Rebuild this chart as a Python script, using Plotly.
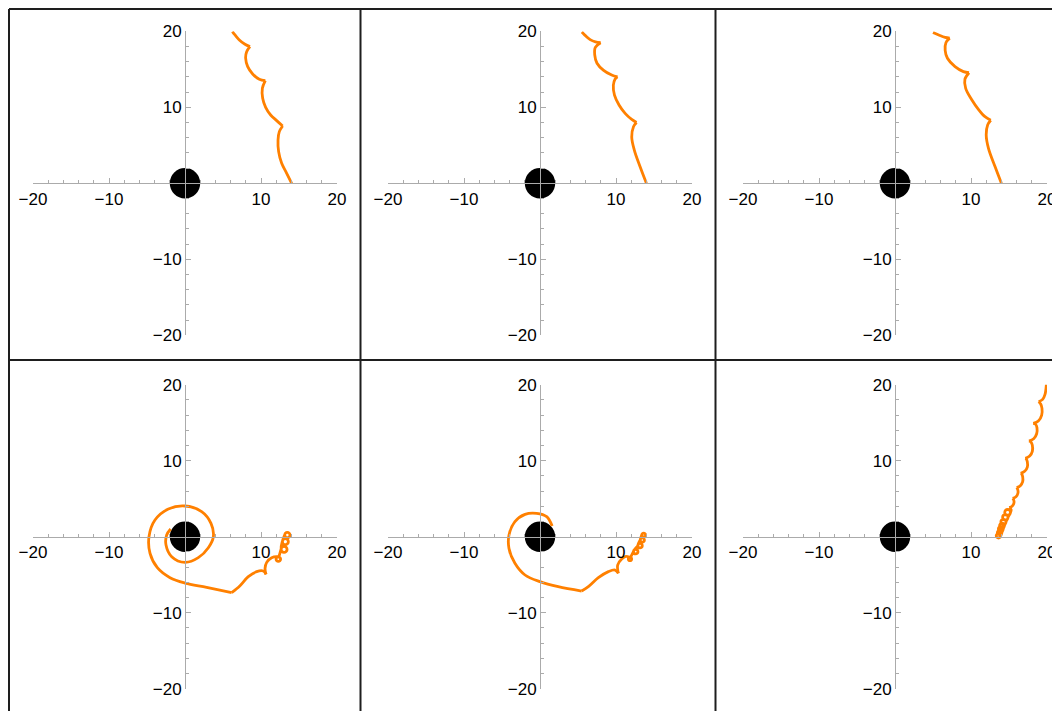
import plotly.graph_objects as go

# ---------------- data ----------------
TICK_VALS = [-20, -10, 10, 20]
MINOR_VALS = [-18, -16, -14, -12, -8, -6, -4, -2, 2, 4, 6, 8, 12, 14, 16, 18]
AXIS_RANGE = [-20, 20]
DISK_RADIUS = 2.0

P1_X = [14.04, 13.38, 12.72, 12.32, 12.24, 12.41, 12.85, None,
        12.85, 12.06, 11.27, 10.61, 10.22, 10.18, 10.57, None,
        10.57, 9.78, 8.9, 8.25, 7.98, 8.11, 8.55, None,
        8.55, 7.89, 7.15, 6.58, 6.23]
P1_Y = [0, 1.32, 2.63, 4.17, 5.7, 6.8, 7.54, None,
        7.54, 8.25, 8.99, 10.0, 11.18, 12.5, 13.5, None,
        13.5, 13.68, 14.39, 15.35, 16.45, 17.32, 17.98, None,
        17.98, 18.29, 18.86, 19.52, 19.96]

P2_X = [14.0, 13.16, 12.4, 12.07, 12.3, 12.7, None,
        12.7, 12.07, 11.2, 10.4, 9.8, 9.65, 9.87, 10.2, None,
        10.2, 9.43, 8.33, 7.5, 7.2, 7.28, 7.98, None,
        7.98, 7.3, 6.6, 5.9, 5.5]
P2_Y = [0, 2.2, 4.4, 6.1, 7.45, 8.0, None,
        8.0, 8.4, 9.2, 10.3, 11.6, 12.9, 13.7, 14.0, None,
        14.0, 14.25, 14.9, 15.8, 16.9, 17.9, 18.5, None,
        18.5, 18.6, 18.9, 19.5, 19.9]

P3_X = [14.0, 13.16, 12.3, 12.0, 12.2, 12.6, None,
        12.6, 11.8, 11.0, 10.1, 9.3, 9.2, 9.74, None,
        9.74, 9.0, 7.9, 6.9, 6.6, 6.7, 7.2, None,
        7.2, 6.6, 5.9, 5.0]
P3_Y = [0, 2.2, 4.6, 6.4, 7.7, 8.3, None,
        8.3, 8.8, 9.7, 11.0, 12.5, 13.7, 14.55, None,
        14.55, 14.7, 15.35, 16.45, 17.5, 18.5, 19.1, None,
        19.1, 19.2, 19.45, 19.85]

P4_X = [-1.89, -2.41, -2.5, -1.75, 0, 1.75, 3.07, 3.73, 3.42, 2.19, 0, -2.19, -3.95, -4.74,
        -4.6, -3.64, -1.97, 0, 2.85, 6.14, None,
        6.14, 7.24, 8.33, 9.43, 10.3, 10.66, None,
        10.66, 10.53, 10.75, 11.4,
        12.28, 12.49, 12.58, 12.49, 12.28, 12.07, 11.98, 12.07, 12.32,
        12.63, 12.75, 13.03, 13.31, 13.43, 13.31, 13.03, 12.75, 12.65,
        12.8, 12.92, 13.2, 13.48, 13.6, 13.48, 13.2, 12.92, 12.82,
        13.11, 13.21, 13.46, 13.71, 13.81, 13.71, 13.46, 13.21, 13.13]
P4_Y = [1.01, 0.22, -1.1, -2.63, -3.38, -2.76, -1.45, 0, 1.75, 3.29, 4.04, 3.64, 2.19, 0,
        -2.19, -4.08, -5.39, -6.1, -6.67, -7.37, None,
        -7.37, -6.45, -5.26, -4.6, -4.52, -4.96, None,
        -4.96, -4.17, -3.38, -2.76,
        -2.64, -2.73, -2.94, -3.15, -3.24, -3.15, -2.94, -2.73, -2.62,
        -1.67, -1.39, -1.27, -1.39, -1.67, -1.95, -2.07, -1.95, -1.6,
        -0.66, -0.38, -0.26, -0.38, -0.66, -0.94, -1.06, -0.94, -0.6,
        0.22, 0.47, 0.57, 0.47, 0.22, -0.03, -0.13, -0.03, 0.27]

P5_X = [1.6, 0.88, -0.44, -1.97, -3.3, -4.08, -4.08, -3.3, -1.97, 0, 2.4, 5.48, None,
        5.48, 6.36, 7.68, 9.0, 9.87, 10.31, None,
        10.31, 10.22, 10.75, 11.3,
        11.84, 12.0, 12.06, 12.0, 11.84, 11.68, 11.62, 11.68, 11.88,
        12.29, 12.38, 12.59, 12.8, 12.89, 12.8, 12.59, 12.38, 12.31,
        12.86, 12.95, 13.16, 13.37, 13.46, 13.37, 13.16, 12.95, 12.88,
        13.18, 13.26, 13.46, 13.66, 13.74, 13.66, 13.46, 13.26, 13.2,
        13.38, 13.46, 13.64, 13.82, 13.9, 13.82, 13.64, 13.46, 13.4]
P5_Y = [1.4, 2.63, 3.07, 2.94, 1.97, 0.22, -1.54, -3.5, -5.04, -5.92, -6.58, -7.15, None,
        -7.15, -6.58, -5.4, -4.6, -4.39, -4.82, None,
        -4.82, -3.73, -2.94, -2.6,
        -2.72, -2.78, -2.94, -3.1, -3.16, -3.1, -2.94, -2.78, -2.7,
        -1.97, -1.76, -1.67, -1.76, -1.97, -2.18, -2.27, -2.18, -1.9,
        -1.18, -0.97, -0.88, -0.97, -1.18, -1.39, -1.48, -1.39, -1.11,
        -0.44, -0.24, -0.16, -0.24, -0.44, -0.64, -0.72, -0.64, -0.37,
        0.22, 0.4, 0.48, 0.4, 0.22, 0.04, -0.04, 0.04, 0.28]

P6_X = [13.6,
        13.92, 13.83, 13.62, 13.41, 13.32, 13.41, 13.62, 13.83, 13.93,
        14.07, 13.98, 13.77, 13.56, 13.47, 13.56, 13.77, 13.98, 14.08,
        14.24, 14.15, 13.92, 13.69, 13.6, 13.69, 13.92, 14.15, 14.25,
        14.4, 14.31, 14.08, 13.85, 13.76, 13.85, 14.08, 14.31, 14.41,
        14.61, 14.51, 14.27, 14.03, 13.93, 14.03, 14.27, 14.51, 14.62,
        14.88, 14.78, 14.52, 14.26, 14.16, 14.26, 14.52, 14.78, 14.89,
        15.2, 15.09, 14.82, 14.55, 14.44, 14.55, 14.82, 15.09, 15.21,
        15.28, 15.04, None,
        15.04, 15.44, 15.66, 15.61, 15.48, None,
        15.48, 15.92, 16.18, 16.14, 16.01, None,
        16.01, 16.49, 16.8, 16.8, 16.67, 16.54, None,
        16.54, 17.06, 17.41, 17.41, 17.28, 17.15, None,
        17.15, 17.72, 18.07, 18.07, 17.89, 17.63, None,
        17.63, 18.25, 18.64, 18.68, 18.51, 18.2, None,
        18.2, 18.86, 19.3, 19.34, 19.17, 18.9, None,
        18.9, 19.43, 19.74, 19.87, 19.96, 20.1]
P6_Y = [-0.2,
        0.12, 0.33, 0.42, 0.33, 0.12, -0.09, -0.18, -0.09, 0.17,
        0.55, 0.76, 0.85, 0.76, 0.55, 0.34, 0.25, 0.34, 0.6,
        1.0, 1.23, 1.32, 1.23, 1.0, 0.77, 0.68, 0.77, 1.05,
        1.45, 1.68, 1.77, 1.68, 1.45, 1.22, 1.13, 1.22, 1.5,
        1.95, 2.19, 2.29, 2.19, 1.95, 1.71, 1.61, 1.71, 2.0,
        2.55, 2.81, 2.91, 2.81, 2.55, 2.29, 2.19, 2.29, 2.6,
        3.2, 3.47, 3.58, 3.47, 3.2, 2.93, 2.82, 2.93, 3.25,
        3.55, 3.82, None,
        3.82, 4.04, 4.47, 4.87, 5.04, None,
        5.04, 5.26, 5.75, 6.23, 6.45, None,
        6.45, 6.71, 7.24, 7.89, 8.25, 8.33, None,
        8.33, 8.6, 9.17, 9.87, 10.22, 10.31, None,
        10.31, 10.61, 11.23, 12.02, 12.46, 12.59, None,
        12.59, 12.89, 13.55, 14.34, 14.78, 14.91, None,
        14.91, 15.22, 16.01, 16.89, 17.46, 17.76, None,
        17.76, 18.07, 18.73, 19.52, 20.39, 21.0]

PANELS = [(P1_X, P1_Y), (P2_X, P2_Y), (P3_X, P3_Y),
          (P4_X, P4_Y), (P5_X, P5_Y), (P6_X, P6_Y)]

# ---------------- layout / style ----------------
PAGE_MARGIN = 8                       # default body margin of the page holding the div
W, H = 1060 - PAGE_MARGIN, 711 - PAGE_MARGIN
HALF = 152                            # half axis length in px
COL_X = [185 - PAGE_MARGIN, 540 - PAGE_MARGIN, 895 - PAGE_MARGIN]
ROW_Y = [183.3 - PAGE_MARGIN, 536.7 - PAGE_MARGIN]
AX_COLOR = "#ababab"
CURVE_COLOR = "#ff8000"
FONT = dict(family="Liberation Sans, Arial, sans-serif", size=17, color="black")

fig = go.Figure()
layout = dict(width=W, height=H, margin=dict(l=0, r=0, t=0, b=0, pad=0, autoexpand=False),
              paper_bgcolor="white", plot_bgcolor="white", showlegend=False,
              template="none")
shapes = []

for i, (px, py) in enumerate(PANELS):
    r, c = divmod(i, 3)
    ox, oy = COL_X[c], ROW_Y[r]
    sfx = "" if i == 0 else str(i + 1)
    fig.add_trace(go.Scatter(x=px, y=py, mode="lines",
                             line=dict(color=CURVE_COLOR, width=2.8, shape="spline", smoothing=1.0),
                             connectgaps=False, hoverinfo="skip",
                             xaxis="x" + sfx, yaxis="y" + sfx))
    common = dict(range=AXIS_RANGE, anchor="free", showline=True, linecolor=AX_COLOR,
                  linewidth=1, ticks="inside", ticklen=5, tickwidth=1, tickcolor=AX_COLOR,
                  tickmode="array", tickvals=TICK_VALS, showgrid=False, zeroline=False,
                  tickfont=FONT, fixedrange=True, layer="above traces", automargin=False,
                  minor=dict(tickmode="array", tickvals=MINOR_VALS, ticks="inside",
                             ticklen=3, tickwidth=1, tickcolor=AX_COLOR, showgrid=False))
    layout["xaxis" + sfx] = dict(common, domain=[(ox - HALF) / W, (ox + HALF) / W],
                                 position=1 - oy / H, side="bottom")
    layout["yaxis" + sfx] = dict(common, domain=[1 - (oy + HALF) / H, 1 - (oy - HALF) / H],
                                 position=ox / W, side="left")
    shapes.append(dict(type="circle", xref="x" + sfx, yref="y" + sfx,
                       x0=-DISK_RADIUS, x1=DISK_RADIUS, y0=-DISK_RADIUS, y1=DISK_RADIUS,
                       fillcolor="black", line=dict(width=0), layer="below"))

# panel frame lines (page px positions shifted into the div)
BORDER = dict(color="#1e1e1e", width=2)
for xv in [1, 360.5 - PAGE_MARGIN, 715.5 - PAGE_MARGIN]:
    shapes.append(dict(type="line", xref="paper", yref="paper", x0=xv / W, x1=xv / W,
                       y0=1 - 1 / H, y1=0, line=BORDER, layer="above"))
for yv in [1, 360 - PAGE_MARGIN]:
    shapes.append(dict(type="line", xref="paper", yref="paper", x0=1 / W, x1=1,
                       y0=1 - yv / H, y1=1 - yv / H, line=BORDER, layer="above"))

layout["shapes"] = shapes
fig.update_layout(**layout)
fig.write_html("out.html")
